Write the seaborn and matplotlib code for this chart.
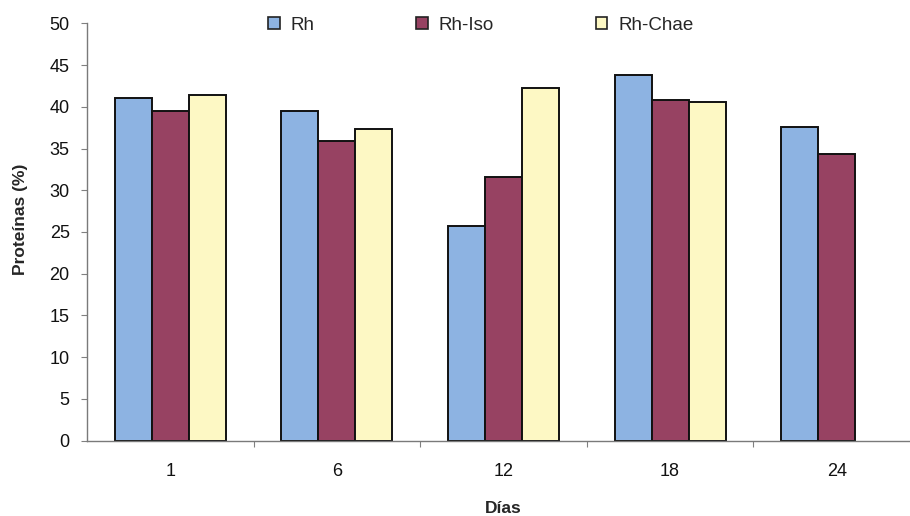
import numpy as np
import pandas as pd
import matplotlib
matplotlib.use("Agg")
import matplotlib.pyplot as plt
import seaborn as sns

# Protein content by day and treatment
days = ["1", "6", "12", "18", "24"]
rh = [41.1, 39.5, 25.7, 43.8, 37.6]
rh_iso = [39.5, 35.9, 31.6, 40.8, 34.3]
rh_chae = [41.4, 37.3, 42.3, 40.6, np.nan]
series = ["Rh", "Rh-Iso", "Rh-Chae"]
colors = ["#8db3e2", "#974262", "#fdf8c4"]
yticks = [0, 5, 10, 15, 20, 25, 30, 35, 40, 45, 50]

df = pd.DataFrame({
    "Días": days * 3,
    "Proteínas": rh + rh_iso + rh_chae,
    "Serie": [s for s in series for _ in days],
})

sns.set_theme(style="white")
plt.rcParams["font.family"] = ["Liberation Sans", "DejaVu Sans"]

fig = plt.figure(figsize=(9.10, 5.16), dpi=100)
ax = fig.add_axes([87 / 910, 1 - 440.7 / 516, 833 / 910, (440.7 - 23.3) / 516])

sns.barplot(data=df, x="Días", y="Proteínas", hue="Serie", order=days,
            hue_order=series, palette=colors, width=0.666, edgecolor="#111111",
            linewidth=1.4, saturation=1, ax=ax, legend=False)

ax.set_ylim(0, 50)
ax.set_xlim(-0.5, 4.5)
ax.set_yticks(yticks)
ax.tick_params(axis="y", which="major", length=4.5, width=0.8, color="#808080",
               direction="out", pad=8, labelsize=13, left=True, labelcolor="#111111")
ax.tick_params(axis="x", which="major", length=0, pad=16, labelsize=13,
               labelcolor="#111111")
ax.set_xticks([0.5, 1.5, 2.5, 3.5], minor=True)
ax.tick_params(axis="x", which="minor", length=4.5, width=0.8, color="#808080",
               direction="out", bottom=True)

for side in ["top", "right"]:
    ax.spines[side].set_visible(False)
for side in ["left", "bottom"]:
    ax.spines[side].set_color("#7a7a7a")
    ax.spines[side].set_linewidth(1.0)

ax.set_ylabel("Proteínas (%)", fontsize=12.5, fontweight="bold", labelpad=12)
ax.yaxis.set_label_coords(-0.071, 0.53)
ax.set_xlabel("Días", fontsize=12.5, fontweight="bold", labelpad=15)

handles = [plt.Rectangle((0, 0), 1, 1, facecolor=c, edgecolor="#222222", linewidth=1.2)
           for c in colors]
fig.legend(handles, series, loc="center left", bbox_to_anchor=(268 / 910, 1 - 25 / 516),
           ncol=3, frameon=False, fontsize=13.5, handlelength=0.62, handleheight=0.62,
           handletextpad=0.6, columnspacing=5.4, borderpad=0, borderaxespad=0)

fig.savefig("out.png", dpi=100)
